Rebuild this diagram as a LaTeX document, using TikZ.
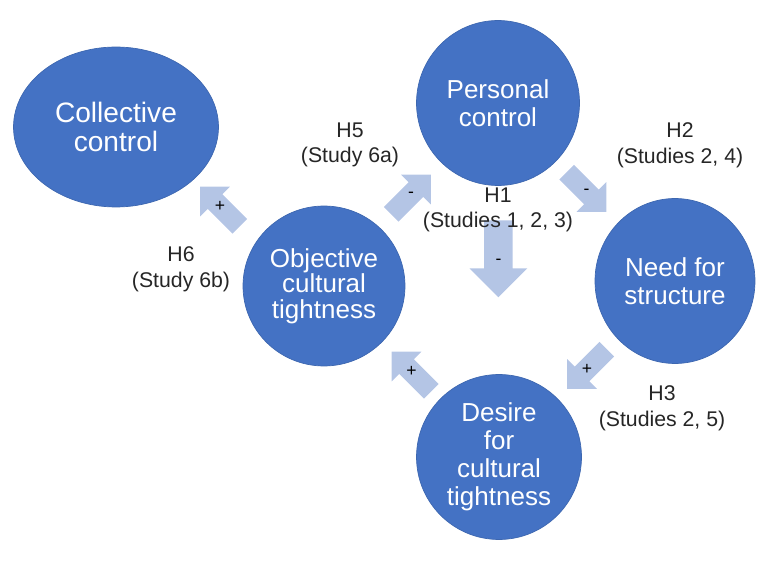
\documentclass[tikz,border=0pt]{standalone}
\usepackage{fontspec}
\setmainfont{Liberation Sans}
\usepackage{xcolor}
\usetikzlibrary{shapes.geometric,calc}
\definecolor{bubbleblue}{HTML}{4472C4}
\definecolor{arrowblue}{HTML}{B4C5E5}

\begin{document}
\begin{tikzpicture}[x=0.02cm,y=-0.02cm,
  bubble/.style={ellipse,fill=bubbleblue,draw=bubbleblue!90!black,inner sep=0pt,text=white,align=center,font=\fontsize{14.8}{16}\selectfont},
  hyp/.style={align=center,text=black!85,font=\fontsize{12.1}{14.6}\selectfont},
  sign/.style={inner sep=0pt,font=\fontsize{10}{12}\selectfont},
  pics/blockarrow/.style={code={\fill[arrowblue] (-1,-0.37)--(0.25,-0.37)--(0.25,-0.75)--(1,0)--(0.25,0.75)--(0.25,0.37)--(-1,0.37)--cycle;}}]
\useasboundingbox (0,0) rectangle (768,564);
\node[bubble,minimum width=4.1cm,minimum height=3.2cm,font=\fontsize{16}{17}\selectfont] (cc) at (116,127) {Collective\\control};
\node[bubble,minimum width=3.26cm,minimum height=3.3cm] (pc) at (498,103) {Personal\\control};
\node[bubble,minimum width=3.24cm,minimum height=3.2cm,font=\fontsize{14.8}{14.4}\selectfont] (oct) at (324,286) {Objective\\cultural\\tightness};
\node[bubble,minimum width=3.2cm,minimum height=3.3cm] (nfs) at (675,281) {Need for\\structure};
\node[bubble,minimum width=3.3cm,minimum height=3.3cm] (dct) at (499,457) {Desire\\for\\cultural\\tightness};
% block arrows
\pic[rotate=-90,scale=38.5] at ($(pc)!0.44!(dct)$) {blockarrow};
\pic[rotate=-45,scale=28] at ($(pc)!0.5!(nfs)$) {blockarrow};
\pic[rotate=45,scale=28] at ($(oct)!0.5!(pc)$) {blockarrow};
\pic[rotate=135,scale=28] at ($(oct)!0.5!(cc)$) {blockarrow};
\pic[rotate=-135,scale=28] at ($(nfs)!0.5!(dct)$) {blockarrow};
\pic[rotate=135,scale=28] at ($(dct)!0.5!(oct)$) {blockarrow};
\node[sign] (s1) at ($(pc)!0.45!(dct)$) {-};
\node[sign] (s2) at ($(pc)!0.5!(nfs)$) {-};
\node[sign] (s5) at ($(oct)!0.5!(pc)$) {-};
\node[sign] (s6) at ($(oct)!0.5!(cc)$) {+};
\node[sign] (s3) at ($(nfs)!0.5!(dct)$) {+};
\node[sign] (s4) at ($(dct)!0.5!(oct)$) {+};
% hypotheses
\node[hyp] (h5) at (350,145) {H5\\(Study 6a)};
\node[hyp] (h2) at (680,145) {H2\\(Studies 2, 4)};
\node[hyp] (h1) at (498,210) {H1\\(Studies 1, 2, 3)};
\node[hyp] (h6) at (181,269) {H6\\(Study 6b)};
\node[hyp] (h3) at (662,408) {H3\\(Studies 2, 5)};
\end{tikzpicture}
\end{document}
